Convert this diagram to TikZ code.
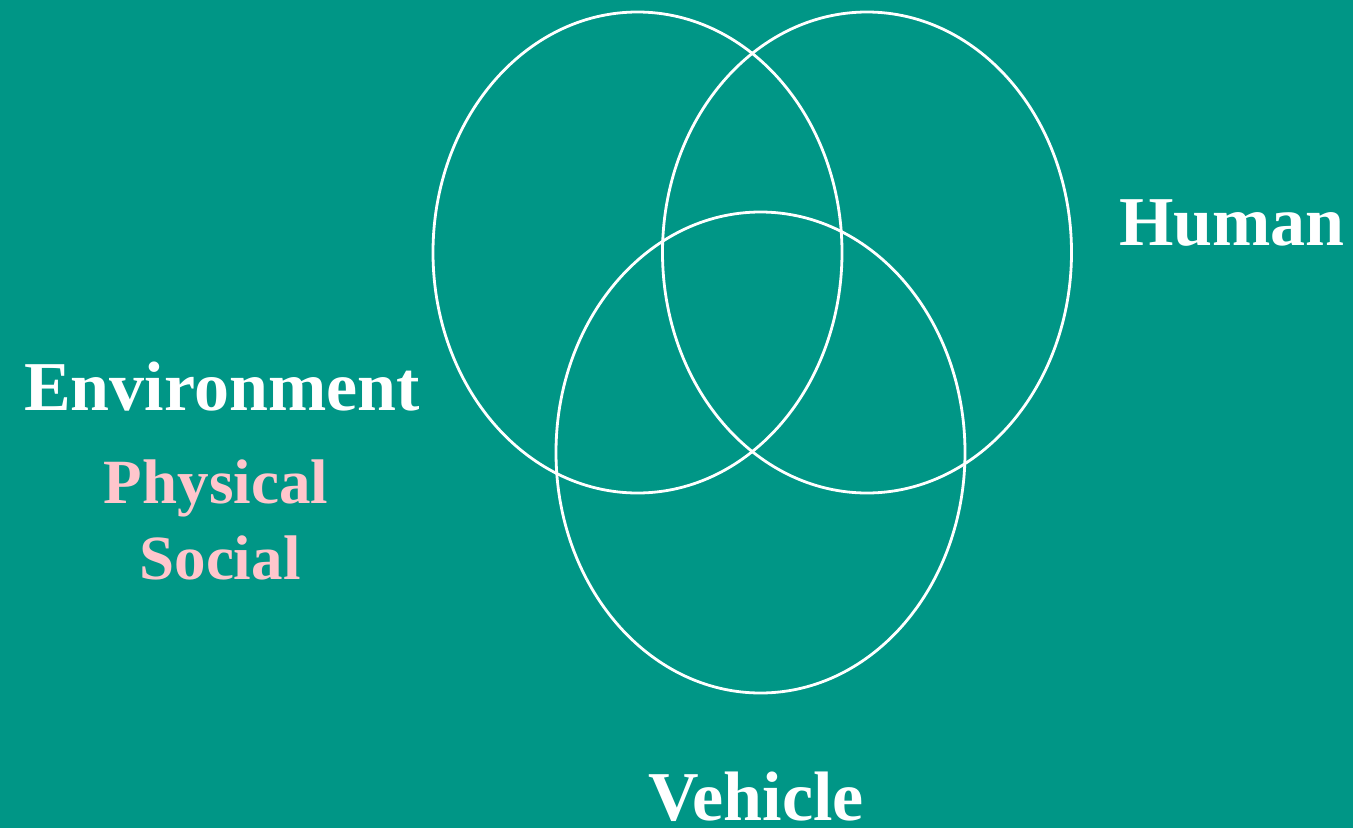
\documentclass[tikz,border=0pt]{standalone}
\usepackage{fontspec}
\setmainfont{Liberation Serif}
\usepackage{tikz}
\usetikzlibrary{shapes.geometric}
\usepackage{xcolor}
\definecolor{board}{HTML}{009686}
\definecolor{rim}{HTML}{FFFFFF}
\definecolor{blush}{HTML}{FFC6CC}

\begin{document}
\begin{tikzpicture}[x=1pt,y=-1pt,
  ring/.style={ellipse,draw=rim,line width=2.8pt,inner sep=0pt,minimum width=409pt,minimum height=481pt},
  title/.style={anchor=base,text=rim,inner sep=0pt,font=\bfseries\fontsize{70}{70}\selectfont},
  facet/.style={anchor=base,text=blush,inner sep=0pt,font=\bfseries\fontsize{63}{63}\selectfont}
]
  \fill[board] (0,0) rectangle (1353,828);
  \useasboundingbox (0,0) rectangle (1353,828);
  \node[ring] (environment) at (637.5,252.5) {};
  \node[ring] (human) at (867,252.5) {};
  \node[ring] (vehicle) at (760.5,452.5) {};
  \node[title] (envlabel) at (222,410) {Environment};
  \node[facet] (physical) at (216,503) {Physical};
  \node[facet] (social) at (220,579) {Social};
  \node[title] (humlabel) at (1232,245) {Human};
  \node[title] (vehlabel) at (756,820) {Vehicle};
\end{tikzpicture}
\end{document}
